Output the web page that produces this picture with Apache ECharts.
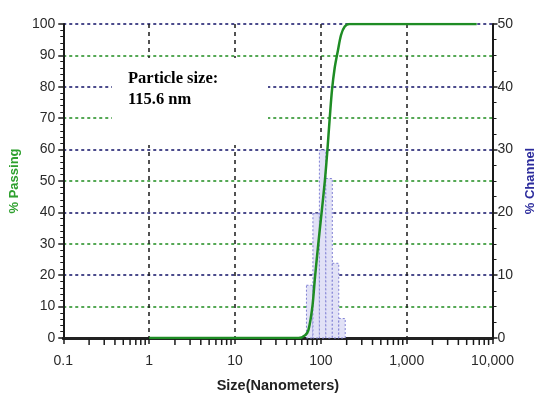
<!DOCTYPE html>
<html>
<head>
<meta charset="utf-8">
<script src="https://cdn.jsdelivr.net/npm/echarts@6/dist/echarts.min.js"></script>
<style>
  html, body { margin: 0; padding: 0; background: #fff; }
  #chart { width: 545px; height: 399px; }
</style>
</head>
<body>
<div id="chart"></div>
<script>
// Channel bins (nm) and % in each channel
const binLower = [68.0, 80.9, 96.2, 114.4, 136.1, 161.8];
const binUpper = [80.9, 96.2, 114.4, 136.1, 161.8, 192.4];
const channelPct = [8.4, 19.8, 29.9, 25.4, 11.9, 3.1];

// Cumulative % passing curve
const passSize = [1, 55, 65.7, 71.7, 79.7, 85.6, 93.4, 101.9, 111.4, 119.4, 127, 135, 145, 158, 172, 190, 215, 6540];
const passPct  = [0, 0, 0.9, 2.5, 9.9, 19.5, 30, 39.7, 50, 60, 70, 79, 86, 91.5, 96.5, 99.2, 100, 100];

// Log axis minor tick positions (2..9 within each decade)
const decades = [0.1, 1, 10, 100, 1000];
const minorMultipliers = [2, 3, 4, 5, 6, 7, 8, 9];

const annotation = ['Particle size:', '115.6 nm'];

const minorTicks = [];
decades.forEach(d => minorMultipliers.forEach(m => minorTicks.push([+(d * m).toPrecision(3), 0])));

const barData = binLower.map((lo, i) => [lo, binUpper[i], channelPct[i]]);
const lineData = passSize.map((s, i) => [s, passPct[i]]);

const labelFont = { fontFamily: '"Liberation Sans", Arial, sans-serif', fontSize: 14, color: '#2a2a2a' };

function fmtSize(v) {
  if (v < 1) return String(+v.toPrecision(1));
  return String(Math.round(v)).replace(/\B(?=(\d{3})+(?!\d))/g, ',');
}

const chart = echarts.init(document.getElementById('chart'), null, { renderer: 'canvas' });

chart.setOption({
  animation: false,
  backgroundColor: '#fff',
  grid: { left: 61, right: 48, top: 24, bottom: 61 },
  xAxis: [{
    type: 'log', logBase: 10, min: 0.1, max: 10000,
    name: 'Size(Nanometers)', nameLocation: 'middle', nameGap: 40,
    nameTextStyle: { fontFamily: '"Liberation Sans", Arial, sans-serif', fontWeight: 'bold', fontSize: 14.5, color: '#222' },
    axisLine: { lineStyle: { color: '#1a1a1a', width: 2 } },
    axisTick: { show: true, length: 6, lineStyle: { color: '#1a1a1a', width: 1.5 } },
    axisLabel: Object.assign({ margin: 16, formatter: fmtSize }, labelFont),
    splitLine: { show: true, lineStyle: { color: '#1a1a1a', type: [4, 4], width: 1.5 } }
  }, {
    type: 'log', logBase: 10, min: 0.1, max: 10000, position: 'top',
    axisLine: { show: true, lineStyle: { color: '#222', width: 3 } },
    axisTick: { show: false }, axisLabel: { show: false }, splitLine: { show: false }
  }],
  yAxis: [{
    type: 'value', min: 0, max: 100, interval: 10,
    name: '% Passing', nameLocation: 'middle', nameGap: 40, nameRotate: 90,
    nameTextStyle: { fontFamily: '"Liberation Sans", Arial, sans-serif', fontWeight: 'bold', fontSize: 13, color: '#2ea02e' },
    axisLine: { show: true, lineStyle: { color: '#1a1a1a', width: 2 } },
    axisTick: { show: true, length: 5, lineStyle: { color: '#1a1a1a', width: 1.5 } },
    minorTick: { show: true, splitNumber: 5, length: 3, lineStyle: { color: '#1a1a1a', width: 1 } },
    axisLabel: Object.assign({ margin: 8 }, labelFont),
    splitLine: { show: true, lineStyle: { color: ['#4b4b8c', '#55a855'], type: [3, 3], width: 2 } }
  }, {
    type: 'value', min: 0, max: 50, interval: 10, position: 'right',
    name: '% Channel', nameLocation: 'middle', nameGap: 27, nameRotate: 90,
    nameTextStyle: { fontFamily: '"Liberation Sans", Arial, sans-serif', fontWeight: 'bold', fontSize: 13, color: '#2b2b9c' },
    axisLine: { show: true, lineStyle: { color: '#1a1a1a', width: 2 } },
    axisTick: { show: true, length: 5, lineStyle: { color: '#1a1a1a', width: 1.5 } },
    minorTick: { show: true, splitNumber: 4, length: 4, lineStyle: { color: '#1a1a1a', width: 1 } },
    axisLabel: Object.assign({ margin: 5 }, labelFont),
    splitLine: { show: false }
  }],
  graphic: [{
    type: 'rect', z: 100, zlevel: 0,
    shape: { x: 112, y: 58, width: 156, height: 87 },
    style: { fill: '#fff' }
  }, {
    type: 'text', z: 101, zlevel: 0, x: 128, y: 68,
    style: {
      text: annotation.join('\n'), fill: '#000',
      font: 'bold 16.5px "Liberation Serif", "Times New Roman", serif',
      lineHeight: 21
    }
  }],
  series: [{
    name: 'Channel', type: 'custom', xAxisIndex: 0, yAxisIndex: 1,
    data: barData, encode: { x: [0, 1], y: 2 }, z: 2, silent: true,
    renderItem: function (params, api) {
      const p0 = api.coord([api.value(0), api.value(2)]);
      const p1 = api.coord([api.value(1), 0]);
      return {
        type: 'rect',
        shape: { x: p0[0], y: p0[1], width: p1[0] - p0[0], height: p1[1] - p0[1] },
        style: { fill: '#e1e1f6', stroke: '#8080d4', lineWidth: 1, lineDash: [2, 2] }
      };
    }
  }, {
    name: 'minor ticks', type: 'custom', xAxisIndex: 0, yAxisIndex: 0,
    data: minorTicks, encode: { x: 0, y: 1 }, silent: true, clip: false, z: 4,
    renderItem: function (params, api) {
      const p = api.coord([api.value(0), api.value(1)]);
      return {
        type: 'line',
        shape: { x1: p[0], y1: p[1] + 1, x2: p[0], y2: p[1] + 7 },
        style: { stroke: '#1a1a1a', lineWidth: 1.5 }
      };
    }
  }, {
    name: '% Passing', type: 'line', xAxisIndex: 0, yAxisIndex: 0,
    data: lineData, symbol: 'none', smooth: 0.3, z: 5,
    lineStyle: { color: '#1e8c24', width: 2.5 }
  }]
});
</script>
</body>
</html>
